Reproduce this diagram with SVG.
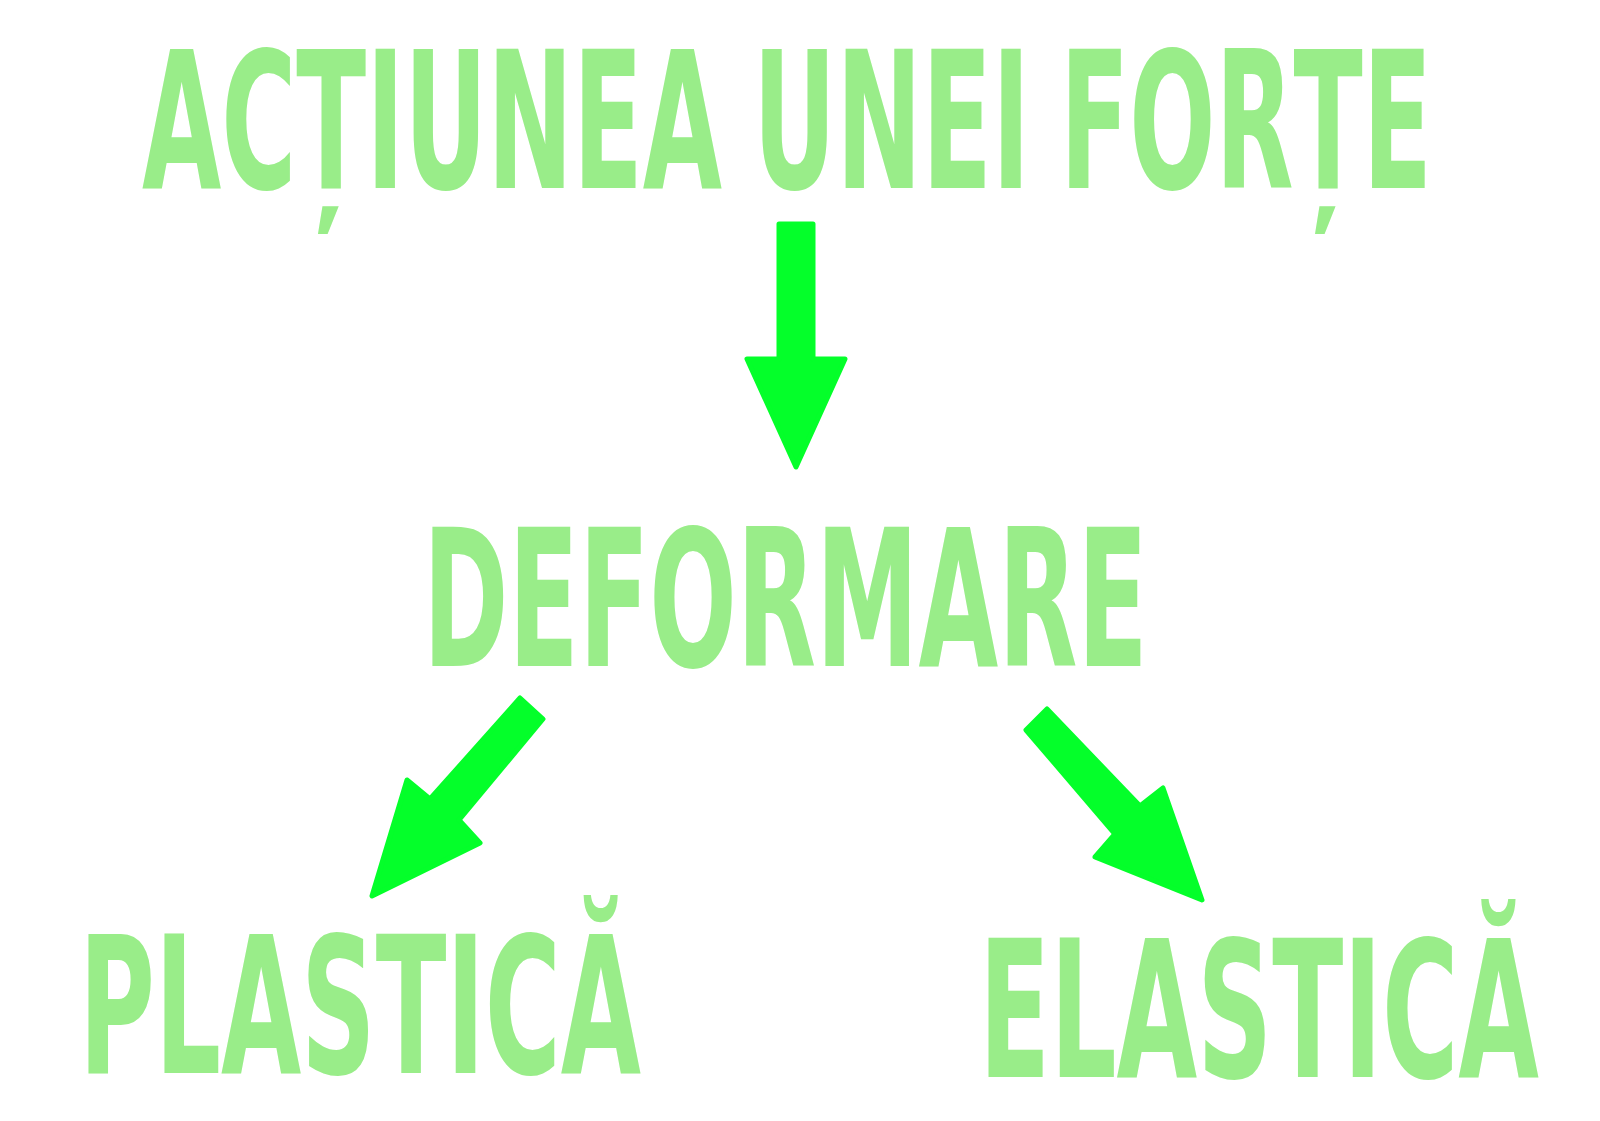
<svg xmlns="http://www.w3.org/2000/svg" width="1600" height="1121" viewBox="0 0 1600 1121">
<style>
.t{font-family:"DejaVu Sans Condensed","DejaVu Sans","Liberation Sans",sans-serif;font-weight:bold;font-size:191px;fill:#99ed89;}
.a{fill:#04ff2a;stroke:#04ff2a;stroke-width:5;stroke-linejoin:round;}
</style>
<rect width="1600" height="1121" fill="#ffffff"/>
<g id="node-actiunea">
<text class="t" transform="translate(0,188) scale(0.6,1)" y="0"><tspan x="236.7" textLength="966.7" lengthAdjust="spacingAndGlyphs">ACȚIUNEA</tspan><tspan x="1255" textLength="461.7" lengthAdjust="spacingAndGlyphs">UNEI</tspan><tspan x="1766.7" textLength="620" lengthAdjust="spacingAndGlyphs">FORȚE</tspan></text>
</g>
<g id="node-deformare">
<text class="t" transform="translate(423,666) scale(0.6,1)" x="0" y="0" textLength="1208.3" lengthAdjust="spacingAndGlyphs">DEFORMARE</text>
</g>
<g id="node-plastica">
<text class="t" transform="translate(79,1073) scale(0.6,1)" x="0" y="0" textLength="936.7" lengthAdjust="spacingAndGlyphs">PLASTICĂ</text>
</g>
<g id="node-elastica">
<text class="t" transform="translate(979,1077) scale(0.6,1)" x="0" y="0" textLength="933.3" lengthAdjust="spacingAndGlyphs">ELASTICĂ</text>
</g>
<g id="connectors">
<polygon class="a" points="779,224 813,224 813,359 845,359 796,467 747,359 779,359"/>
<polygon class="a" points="520,698 543,719 459,820 480,843 372,896 407,780 430,799"/>
<polygon class="a" points="1047,709 1140,806 1163,788 1202,900 1095,857 1115,834 1026,730"/>
</g>
</svg>
